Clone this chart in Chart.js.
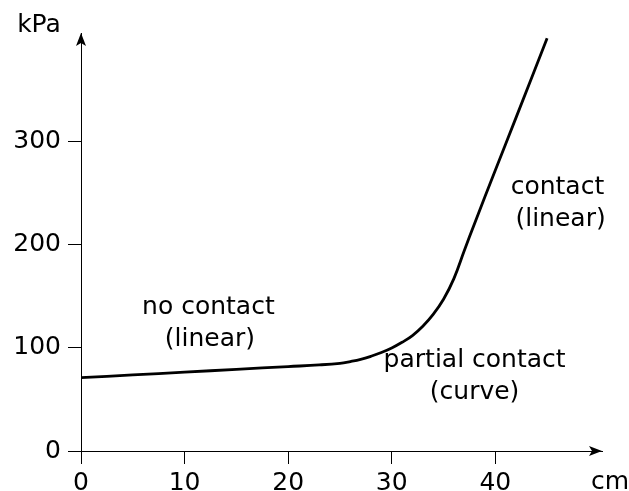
<!DOCTYPE html>
<html>
<head>
<meta charset="utf-8">
<script src="https://cdn.jsdelivr.net/npm/chart.js@4.4.1/dist/chart.umd.min.js"></script>
<style>
  html, body { margin: 0; padding: 0; background: #fff; }
  #wrap { width: 629px; height: 491px; }
</style>
</head>
<body>
<div id="wrap"><canvas id="pressureChart" width="629" height="491"></canvas></div>
<script>
// displacement (cm) and pressure (kPa)
const cm  = [0, 5, 10, 15, 20, 23, 25, 26, 27, 28, 29, 30, 31, 32, 33, 34, 35, 36, 37, 38, 40, 42, 45];
const kPa = [71, 73.7, 76.4, 79.1, 81.8, 83.4, 85, 86.7, 88.8, 91.8, 95.4, 99.8, 105.3, 111.8, 120.8, 132.3, 147, 167, 194, 220.5, 272, 323, 400];

const xTicks = [0, 10, 20, 30, 40];
const yTicks = [0, 100, 200, 300];

// region labels, placed in data units
const labelText = ['no contact', '(linear)', 'contact', '(linear)', 'partial contact', '(curve)'];
const labelX    = [12.3, 12.45, 46.0, 46.3, 38.0, 38.0];
const labelY    = [132.8, 101.7, 249, 218, 81.4, 50.4];

const FONT = '25px "DejaVu Sans", sans-serif';

const decorations = {
    id: 'decorations',
    afterDraw(chart) {
        const ctx = chart.ctx;
        const area = chart.chartArea;
        const xs = chart.scales.x;
        const ys = chart.scales.y;
        ctx.save();
        ctx.fillStyle = '#000';

        // arrow heads
        ctx.beginPath();
        ctx.moveTo(area.right, ys.bottom);
        ctx.lineTo(area.right - 13, ys.bottom - 5);
        ctx.lineTo(area.right - 10, ys.bottom);
        ctx.lineTo(area.right - 13, ys.bottom + 5);
        ctx.closePath();
        ctx.fill();

        ctx.beginPath();
        ctx.moveTo(xs.left, area.top);
        ctx.lineTo(xs.left - 5, area.top + 13);
        ctx.lineTo(xs.left, area.top + 10);
        ctx.lineTo(xs.left + 5, area.top + 13);
        ctx.closePath();
        ctx.fill();

        // axis units
        ctx.font = FONT;
        ctx.textBaseline = 'alphabetic';
        ctx.textAlign = 'center';
        ctx.fillText('kPa', xs.left - 42, area.top - 1);
        ctx.textAlign = 'left';
        ctx.fillText('cm', area.right - 11, ys.bottom + 38);

        // region labels
        ctx.textAlign = 'center';
        labelText.forEach((t, i) => {
            ctx.fillText(t, xs.getPixelForValue(labelX[i]), ys.getPixelForValue(labelY[i]));
        });
        ctx.restore();
    }
};

new Chart(document.getElementById('pressureChart').getContext('2d'), {
    type: 'line',
    data: {
        datasets: [{
            data: cm.map((x, i) => ({ x: x, y: kPa[i] })),
            borderColor: '#000',
            borderWidth: 2.8,
            pointRadius: 0,
            fill: false,
            tension: 0.4
        }]
    },
    options: {
        responsive: false,
        animation: false,
        events: [],
        layout: { padding: { top: 33, right: 27, left: 0, bottom: 0 } },
        plugins: { legend: { display: false }, tooltip: { enabled: false } },
        scales: {
            x: {
                type: 'linear',
                min: 0,
                max: 50.3,
                afterFit: s => { s.height = 40; },
                afterBuildTicks: s => { s.ticks = xTicks.map(v => ({ value: v })); },
                border: { display: true, color: '#000', width: 1 },
                grid: { drawOnChartArea: false, drawTicks: true, tickLength: 13, color: '#000' },
                ticks: { color: '#000', font: { family: '"DejaVu Sans", sans-serif', size: 25 }, padding: 4, maxRotation: 0 }
            },
            y: {
                type: 'linear',
                min: 0,
                max: 405,
                afterFit: s => { s.width = 81; },
                afterBuildTicks: s => { s.ticks = yTicks.map(v => ({ value: v })); },
                border: { display: true, color: '#000', width: 1 },
                grid: { drawOnChartArea: false, drawTicks: true, tickLength: 13, color: '#000' },
                ticks: { color: '#000', font: { family: '"DejaVu Sans", sans-serif', size: 25 }, padding: 7 }
            }
        }
    },
    plugins: [decorations]
});
</script>
</body>
</html>
